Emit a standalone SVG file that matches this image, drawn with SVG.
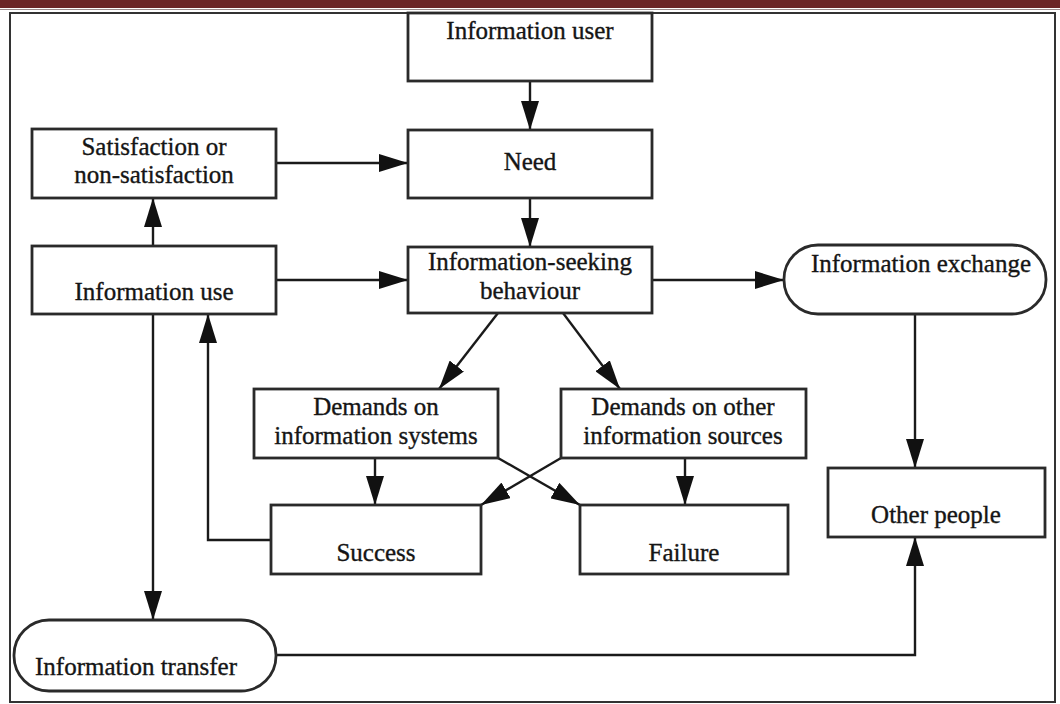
<svg xmlns="http://www.w3.org/2000/svg" width="1060" height="704" viewBox="0 0 1060 704">
  <defs>
    <marker id="arrow" markerUnits="userSpaceOnUse" markerWidth="29" markerHeight="18" refX="29" refY="9" orient="auto">
      <path d="M0,0 L29,9 L0,18 Z" fill="#111"/>
    </marker>
    <style>
      .box { fill: #fff; stroke: #2a2a2a; stroke-width: 2.8; }
      .lbl { font-family: "Liberation Serif", "Times New Roman", serif; font-size: 25px; fill: #151515; stroke: #151515; stroke-width: 0.35; text-anchor: middle; }
      .conn path { fill: none; stroke: #1a1a1a; stroke-width: 2.4; }
      .conn .arr { marker-end: url(#arrow); }
    </style>
  </defs>

  <rect x="0" y="0" width="1060" height="704" fill="#fff"/>
  <!-- header band and frame -->
  <rect x="0" y="0" width="1060" height="8" fill="#6b2526"/>
  <line x1="0" y1="9.5" x2="1060" y2="9.5" stroke="#9a8a8a" stroke-width="1"/>
  <rect x="10" y="13" width="1045" height="689" fill="none" stroke="#333" stroke-width="2"/>

  <!-- connectors -->
  <g id="connectors" class="conn">
    <path class="arr" d="M530,81 V130"/>
    <path class="arr" d="M530,198 V247"/>
    <path class="arr" d="M276,163 H408"/>
    <path class="arr" d="M153,246 V198"/>
    <path class="arr" d="M276,280 H408"/>
    <path class="arr" d="M652,280 H784"/>
    <path class="arr" d="M498,313 L439,389"/>
    <path class="arr" d="M563,313 L620,389"/>
    <path class="arr" d="M375,458 V505"/>
    <path class="arr" d="M685,458 V505"/>
    <path class="arr" d="M498,458 L580,505"/>
    <path class="arr" d="M561,458 L481,505"/>
    <path class="arr" d="M271,540 H208 V314"/>
    <path class="arr" d="M153,314 V620"/>
    <path class="arr" d="M915,314 V468"/>
    <path class="arr" d="M276,655 H915 V537"/>
  </g>

  <g id="information-user">
    <rect class="box" x="408" y="13" width="244" height="68"/>
    <text class="lbl" x="530" y="39">Information user</text>
  </g>
  <g id="need">
    <rect class="box" x="408" y="130" width="244" height="68"/>
    <text class="lbl" x="530" y="170">Need</text>
  </g>
  <g id="satisfaction">
    <rect class="box" x="32" y="129" width="244" height="69"/>
    <text class="lbl" x="154" y="155">Satisfaction or</text>
    <text class="lbl" x="154" y="183">non-satisfaction</text>
  </g>
  <g id="information-use">
    <rect class="box" x="32" y="246" width="244" height="68"/>
    <text class="lbl" x="154" y="300">Information use</text>
  </g>
  <g id="information-seeking">
    <rect class="box" x="408" y="247" width="244" height="66"/>
    <text class="lbl" x="530" y="270">Information-seeking</text>
    <text class="lbl" x="530" y="299">behaviour</text>
  </g>
  <g id="information-exchange">
    <rect class="box" x="784" y="245" width="262" height="69" rx="34" ry="34"/>
    <text class="lbl" x="921" y="272">Information exchange</text>
  </g>
  <g id="demands-systems">
    <rect class="box" x="254" y="389" width="244" height="69"/>
    <text class="lbl" x="376" y="415">Demands on</text>
    <text class="lbl" x="376" y="444">information systems</text>
  </g>
  <g id="demands-sources">
    <rect class="box" x="561" y="389" width="245" height="69"/>
    <text class="lbl" x="683" y="415">Demands on other</text>
    <text class="lbl" x="683" y="444">information sources</text>
  </g>
  <g id="success">
    <rect class="box" x="271" y="505" width="210" height="69"/>
    <text class="lbl" x="376" y="561">Success</text>
  </g>
  <g id="failure">
    <rect class="box" x="580" y="505" width="208" height="69"/>
    <text class="lbl" x="684" y="561">Failure</text>
  </g>
  <g id="other-people">
    <rect class="box" x="828" y="468" width="217" height="69"/>
    <text class="lbl" x="936" y="523">Other people</text>
  </g>
  <g id="information-transfer">
    <rect class="box" x="14" y="620" width="262" height="71" rx="35" ry="35"/>
    <text class="lbl" x="136" y="675">Information transfer</text>
  </g>
</svg>
